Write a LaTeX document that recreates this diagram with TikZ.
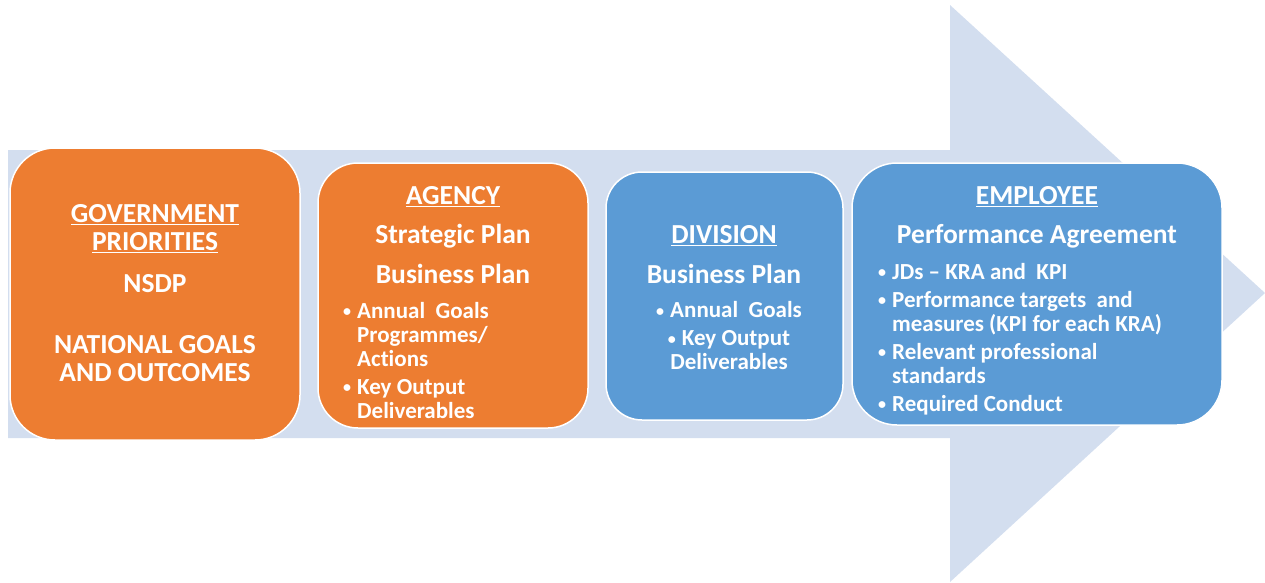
\documentclass[tikz,border=0pt]{standalone}
\usepackage{fontspec}
\setmainfont{Carlito}[Ligatures=NoCommon]
\usetikzlibrary{positioning}
\usepackage{xcolor}

\definecolor{orng}{HTML}{ED7D31}
\definecolor{blu}{HTML}{5B9BD5}
\definecolor{pale}{HTML}{D3DEEF}

\tikzset{
  stage/.style={draw=white, line width=1.5pt, rounded corners=40pt, inner sep=0pt},
  txt/.style={text=white, inner sep=0pt, font=\bfseries\fontsize{23}{24}\selectfont},
  head/.style={txt, font=\bfseries\fontsize{27.5}{28}\selectfont},
}

\newcommand{\bul}{\makebox[14pt][l]{\fontsize{16}{16}\selectfont\raisebox{1.5pt}{\textbullet}}}
\newcommand{\cont}{\hspace*{14pt}}

\begin{document}
\begin{tikzpicture}[x=1pt,y=-1pt]
\useasboundingbox (0,0) rectangle (1265,582);

% big arrow in the background
\fill[pale] (8,150) -- (950,150) -- (950,5) -- (1265,293) -- (950,582) -- (950,438) -- (8,438) -- cycle;

% the four stages
\node[stage, fill=orng, minimum width=290pt, minimum height=292pt, rounded corners=45pt] (gov) at (155,294) {};
\node[stage, fill=orng, minimum width=270pt, minimum height=265pt] (agency) at (453,295.5) {};
\node[stage, fill=blu, minimum width=237pt, minimum height=248pt, rounded corners=36pt] (division) at (724.5,296) {};
\node[stage, fill=blu, minimum width=370pt, minimum height=262pt, rounded corners=45pt] (employee) at (1037,294) {};

% government
\node[head, align=center] (govtitle) at (155,229) {\underline{GOVERNMENT}\\\underline{PRIORITIES}};
\node[head] (nsdp) at (155,284) {NSDP};
\node[head, align=center] (goals) at (155,359) {NATIONAL GOALS\\AND OUTCOMES};

% agency
\node[head] (agtitle) at (453,197) {\underline{AGENCY}};
\node[head] (strat) at (453,236) {Strategic Plan};
\node[head] (agbus) at (453,274) {Business Plan};
\node[txt, align=left, anchor=north west] (aglist) at (343,302) {%
  \bul Annual\ \ Goals\\ \cont Programmes/\\ \cont Actions\\[4pt]
  \bul Key Output\\ \cont Deliverables};

% division
\node[head] (divtitle) at (724,236) {\underline{DIVISION}};
\node[head] (divbus) at (724,274) {Business Plan};
\node[txt, align=center] (divlist) at (729,336) {%
  \bul Annual\ \ Goals\\[4pt] \bul Key Output\\ Deliverables};

% employee
\node[head] (emptitle) at (1037,197) {\underline{EMPLOYEE}};
\node[head] (perf) at (1037,236) {Performance Agreement};
\node[txt, align=left, anchor=north west] (emplist) at (878,263) {%
  \bul JDs -- KRA and\ \ KPI\\[4pt]
  \bul Performance targets\ \ and\\ \cont measures (KPI for each KRA)\\[4pt]
  \bul Relevant professional\\ \cont standards\\[4pt]
  \bul Required Conduct};

\end{tikzpicture}
\end{document}
